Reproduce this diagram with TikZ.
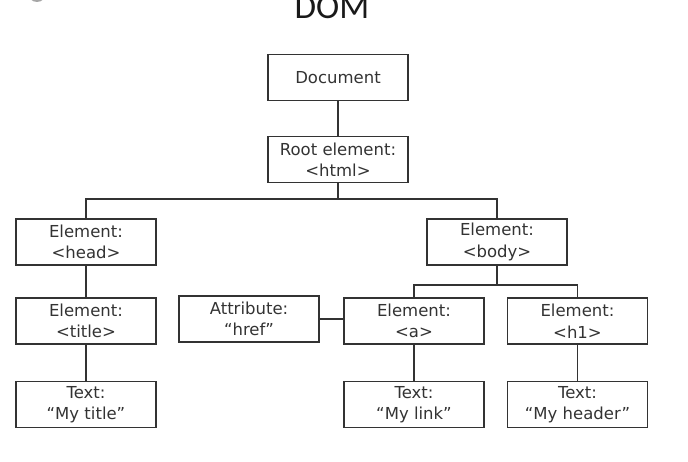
\documentclass[tikz,border=0pt]{standalone}
\usepackage{fontspec}
\setmainfont{DejaVu Sans}
\newfontfamily\titlefont{Carlito}
\begin{document}
\begin{tikzpicture}[x=1pt,y=-1pt,
  box/.style={draw=black!80, line width=1.6pt, minimum width=140pt, minimum height=46pt,
    inner sep=0pt, align=center, text=black!80, font=\fontsize{16.5}{21.5}\selectfont},
  lbl/.style={yshift=-2pt},
  conn/.style={draw=black!80, line width=1.6pt}]
\useasboundingbox (0,0) rectangle (688,462);
\fill[gray!70] (37,-7) circle (9);
\node[anchor=base, font=\titlefont\fontsize{35}{40}\selectfont, text=black!90] (title) at (332,19) {DOM};
\node[box] (doc) at (338,77.5) {Document};
\node[box] (root) at (338,159.5) {\raisebox{-2pt}{Root element:}\\\raisebox{-2pt}{<html>}};
\node[box] (head) at (86,242) {\raisebox{-2pt}{Element:}\\\raisebox{-2pt}{<head>}};
\node[box] (body) at (497,242) {\raisebox{-2pt}{Element:}\\\raisebox{-2pt}{<body>}};
\node[box] (ttl) at (86,321) {\raisebox{-2pt}{Element:}\\\raisebox{-2pt}{<title>}};
\node[box] (attr) at (249,319) {\raisebox{-2pt}{Attribute:}\\\raisebox{-2pt}{“href”}};
\node[box] (a) at (414,321) {\raisebox{-2pt}{Element:}\\\raisebox{-2pt}{<a>}};
\node[box] (h1) at (577.5,321) {\raisebox{-2pt}{Element:}\\\raisebox{-2pt}{<h1>}};
\node[box] (ttext) at (86,404.5) {\raisebox{-2pt}{Text:}\\\raisebox{-2pt}{“My title”}};
\node[box] (atext) at (414,404.5) {\raisebox{-2pt}{Text:}\\\raisebox{-2pt}{“My link”}};
\node[box] (htext) at (577.5,404.5) {\raisebox{-2pt}{Text:}\\\raisebox{-2pt}{“My header”}};
\coordinate (bus1) at (0,199);
\coordinate (bus2) at (0,285);
\draw[conn] (doc) -- (root);
\draw[conn] (root.south) -- (root.south |- bus1);
\draw[conn] (head.north) -- (head.north |- bus1) -- (body.north |- bus1) -- (body.north);
\draw[conn] (body.south) -- (body.south |- bus2);
\draw[conn] (a.north) -- (a.north |- bus2) -- (h1.north |- bus2) -- (h1.north);
\draw[conn] (head) -- (ttl);
\draw[conn] (ttl) -- (ttext);
\draw[conn] (attr.east) -- (a.west |- attr.east);
\draw[conn] (a) -- (atext);
\draw[conn] (h1) -- (htext);
\end{tikzpicture}
\end{document}
